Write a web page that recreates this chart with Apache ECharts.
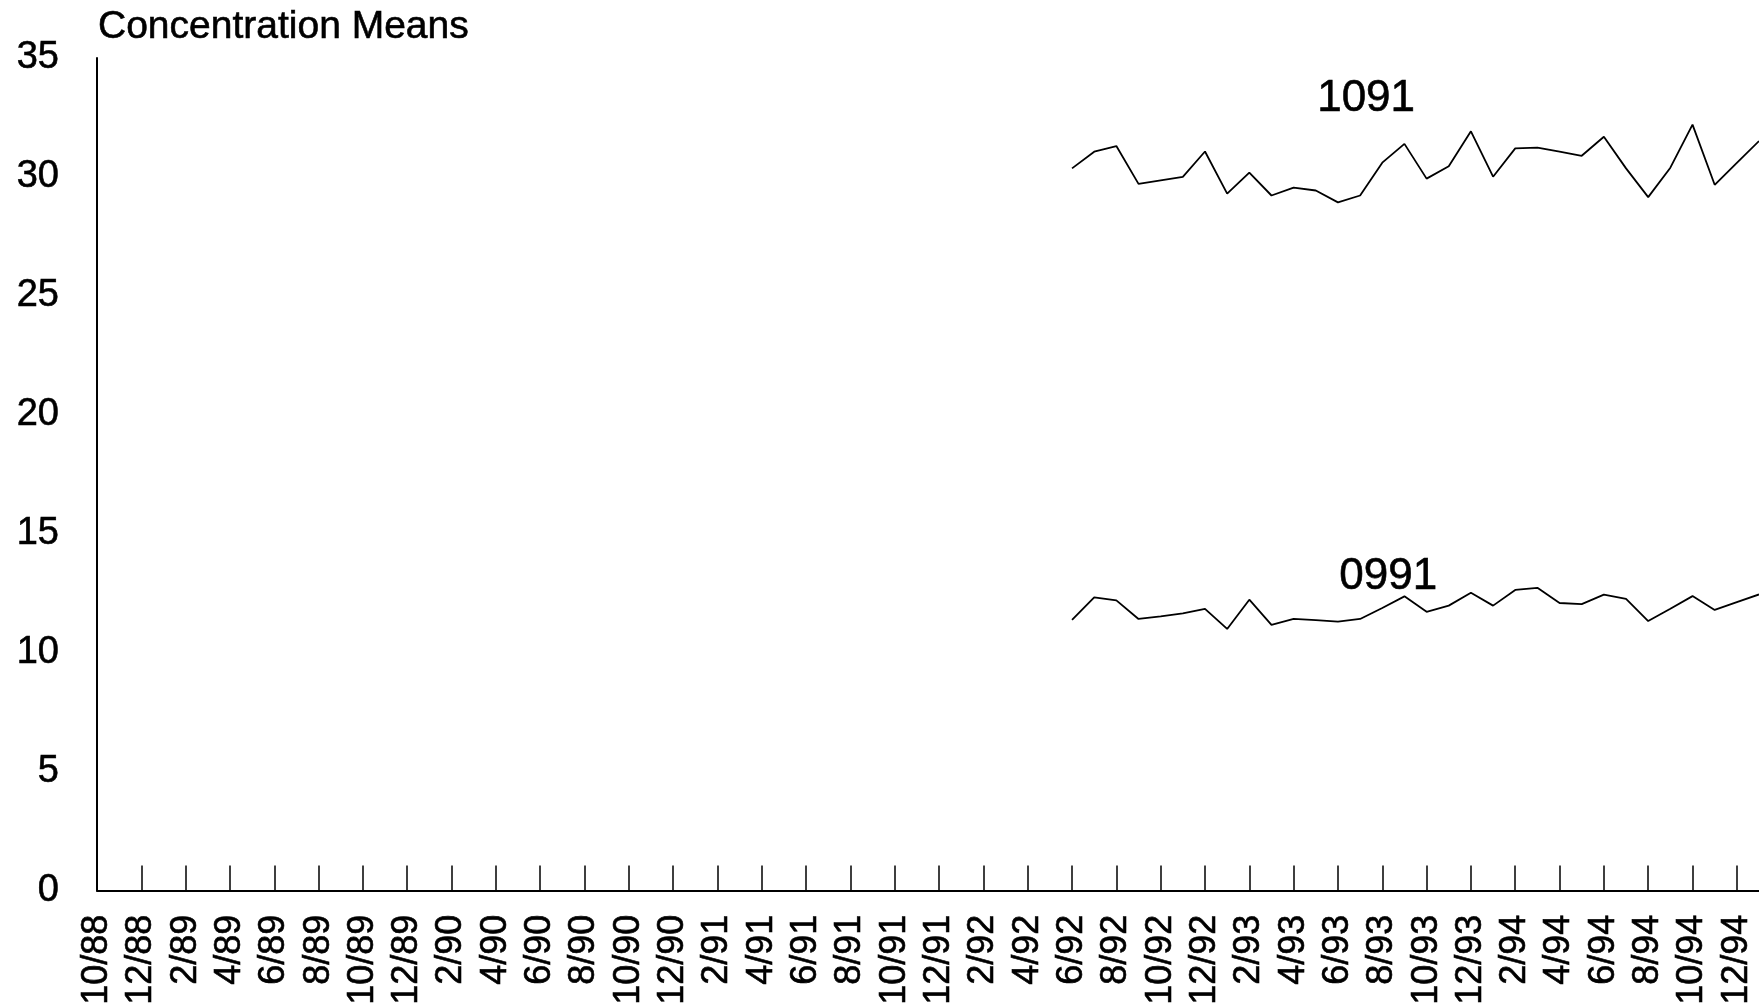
<!DOCTYPE html>
<html>
<head>
<meta charset="utf-8">
<script src="https://cdn.jsdelivr.net/npm/echarts@6/dist/echarts.min.js"></script>
<style>
  html, body { margin: 0; padding: 0; background: #fff; }
  #main { width: 1759px; height: 1008px; }
</style>
</head>
<body>
<div id="main"></div>
<script>
// monthly categories, 10/88 .. 1/95
const months = [
  "10/88", "11/88", "12/88",
  "1/89", "2/89", "3/89", "4/89", "5/89", "6/89", "7/89", "8/89", "9/89", "10/89", "11/89", "12/89",
  "1/90", "2/90", "3/90", "4/90", "5/90", "6/90", "7/90", "8/90", "9/90", "10/90", "11/90", "12/90",
  "1/91", "2/91", "3/91", "4/91", "5/91", "6/91", "7/91", "8/91", "9/91", "10/91", "11/91", "12/91",
  "1/92", "2/92", "3/92", "4/92", "5/92", "6/92", "7/92", "8/92", "9/92", "10/92", "11/92", "12/92",
  "1/93", "2/93", "3/93", "4/93", "5/93", "6/93", "7/93", "8/93", "9/93", "10/93", "11/93", "12/93",
  "1/94", "2/94", "3/94", "4/94", "5/94", "6/94", "7/94", "8/94", "9/94", "10/94", "11/94", "12/94",
  "1/95"
];
const yTicks = [0, 5, 10, 15, 20, 25, 30, 35];

// both series start at 6/92
const seriesStart = "6/92";
const series1091 = [
  30.36, 31.06, 31.30, 29.71, 29.86, 30.00, 31.07,
  29.30, 30.18, 29.22, 29.55, 29.43, 28.93, 29.22, 30.60, 31.39, 29.93, 30.45, 31.92,
  30.01, 31.20, 31.23, 31.06, 30.89, 31.69, 30.36, 29.15, 30.39, 32.20, 29.67, 30.59,
  31.51
];
const series0991 = [
  11.38, 12.33, 12.20, 11.42, 11.53, 11.65, 11.84,
  11.00, 12.23, 11.17, 11.42, 11.37, 11.31, 11.42, 11.88, 12.37, 11.72, 11.98, 12.52,
  11.98, 12.64, 12.73, 12.09, 12.04, 12.44, 12.26, 11.33, 11.85, 12.38, 11.80, 12.13,
  12.45
];
const seriesNames = ["1091", "0991"];
const seriesLabelAt = [["7/93", 33.3], ["8/93", 13.2]];

function pad(values) {
  const lead = months.indexOf(seriesStart);
  return new Array(lead).fill(null).concat(values);
}

const font = "'Liberation Sans', Arial, Helvetica, sans-serif";
// a thin outline makes the text a bit heavier, like the original print
const heavy = { textBorderColor: "#000", textBorderWidth: 0.6 };

let myChart = echarts.init(document.getElementById("main"));
myChart.setOption({
  animation: false,
  backgroundColor: "#fff",
  title: {
    text: "Concentration Means",
    left: 93,
    top: 3,
    textStyle: Object.assign({ fontFamily: font, fontSize: 39, fontWeight: "normal", color: "#000" }, heavy)
  },
  grid: { left: 97, top: 58, bottom: 115, right: -7 },
  xAxis: {
    type: "category",
    data: months,
    boundaryGap: false,
    axisLine: { lineStyle: { color: "#000", width: 2 } },
    axisTick: { inside: true, length: 25, interval: 1, lineStyle: { color: "#000", width: 1.5 } },
    axisLabel: Object.assign({
      interval: 1,
      rotate: 90,
      margin: 24,
      fontFamily: font,
      fontSize: 36,
      color: "#000"
    }, heavy),
    splitLine: { show: false }
  },
  yAxis: {
    type: "value",
    min: yTicks[0],
    max: yTicks[yTicks.length - 1],
    interval: 5,
    axisLine: { show: true, lineStyle: { color: "#000", width: 2 } },
    axisTick: { show: false },
    axisLabel: Object.assign({ margin: 38, fontFamily: font, fontSize: 38, color: "#000" }, heavy),
    splitLine: { show: false }
  },
  series: [series1091, series0991].map((vals, i) => ({
    name: seriesNames[i],
    type: "line",
    data: pad(vals),
    symbol: "none",
    connectNulls: false,
    lineStyle: { color: "#000", width: 1.8 },
    markPoint: {
      symbol: "circle",
      symbolSize: 0,
      data: [{ coord: seriesLabelAt[i] }],
      label: Object.assign({
        show: true,
        position: "inside",
        offset: [6, 0],
        formatter: seriesNames[i],
        fontFamily: font,
        fontSize: 44,
        color: "#000"
      }, heavy)
    }
  }))
});
</script>
</body>
</html>
